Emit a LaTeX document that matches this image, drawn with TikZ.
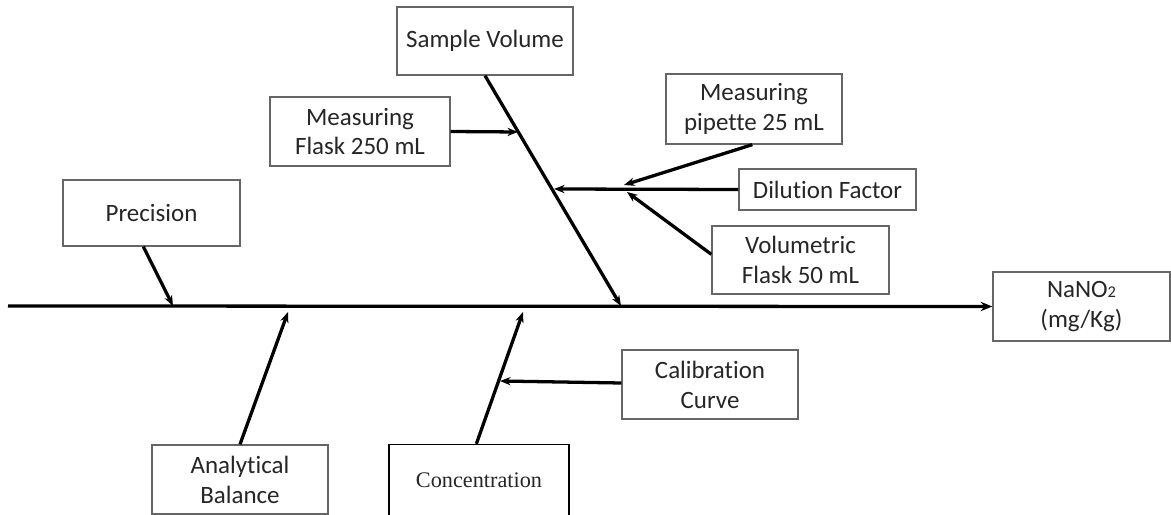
\documentclass[tikz,border=0pt]{standalone}
\usepackage{fontspec}
\setmainfont[Ligatures=NoCommon]{Carlito}
\newfontfamily\serifcj{Liberation Serif}
\usetikzlibrary{arrows.meta,calc}
\tikzset{
  box/.style={draw=black!60, line width=1.1pt, fill=white, align=center, inner sep=0pt,
    font=\fontsize{21.3}{25.5}\selectfont, text=black!85},
  bone/.style={line width=2.8pt, -{Stealth[length=9pt,width=7pt]}},
}
\begin{document}
\begin{tikzpicture}[x=0.03cm,y=-0.03cm]
\useasboundingbox (0,0) rectangle (1171,515);
% boxes
\node[box, minimum width=176*0.03cm, minimum height=68*0.03cm] (sv) at (485,41) {Sample Volume};
\node[box, minimum width=180*0.03cm, minimum height=69*0.03cm] (mf) at (360,131.5) {Measuring\\Flask 250 mL};
\node[box, minimum width=176*0.03cm, minimum height=70*0.03cm] (mp) at (754,109) {Measuring\\pipette 25 mL};
\node[box, minimum width=177*0.03cm, minimum height=41*0.03cm] (df) at (827.5,189.5) {Dilution Factor};
\node[box, minimum width=177*0.03cm, minimum height=68*0.03cm] (vf) at (800.5,260) {Volumetric\\Flask 50 mL};
\node[box, minimum width=177*0.03cm, minimum height=69*0.03cm] (na) at (1081.5,306.5) {NaNO{\fontsize{14}{16}\selectfont 2}\\(mg/Kg)};
\node[box, minimum width=177*0.03cm, minimum height=66*0.03cm] (pr) at (151.5,213) {Precision};
\node[box, minimum width=176*0.03cm, minimum height=69*0.03cm] (ab) at (240,479.5) {Analytical\\Balance};
\node[box, draw=black, minimum width=180*0.03cm, minimum height=71*0.03cm, font=\serifcj\fontsize{19}{22}\selectfont] (co) at (479,480) {Concentration};
\node[box, minimum width=176*0.03cm, minimum height=69*0.03cm] (cc) at (710,384.5) {Calibration\\Curve};
% coordinates
\coordinate (s0) at (8,306);
\coordinate (psv) at (621,306);
\coordinate (pmf) at (518,132);
\coordinate (pdf) at (554,189);
\coordinate (pmp) at (624,185);
\coordinate (pvf) at (627,192);
\coordinate (ppr) at (173,306);
\coordinate (pab) at (288,312);
\coordinate (pco) at (523,312);
\coordinate (pcc) at (500,381);
% spine
\draw[bone, -{Stealth[length=10pt,width=8pt]}] (s0) -- (na.west);
% branches
\draw[bone] (sv.south) -- (psv);
\draw[bone] (mf.east) -- (pmf);
\draw[bone] (df.west) -- (pdf);
\draw[bone] ($(mp.south west)+(87,0)$) -- (pmp);
\draw[bone] ($(vf.north west)+(0,29)$) -- (pvf);
\draw[bone] ($(pr.south west)+(81,0)$) -- (ppr);
\draw[bone] (ab.north) -- (pab);
\draw[bone] ($(co.north west)+(88,0)$) -- (pco);
\draw[bone] ($(cc.west)+(0,-1.5)$) -- (pcc);
\end{tikzpicture}
\end{document}
